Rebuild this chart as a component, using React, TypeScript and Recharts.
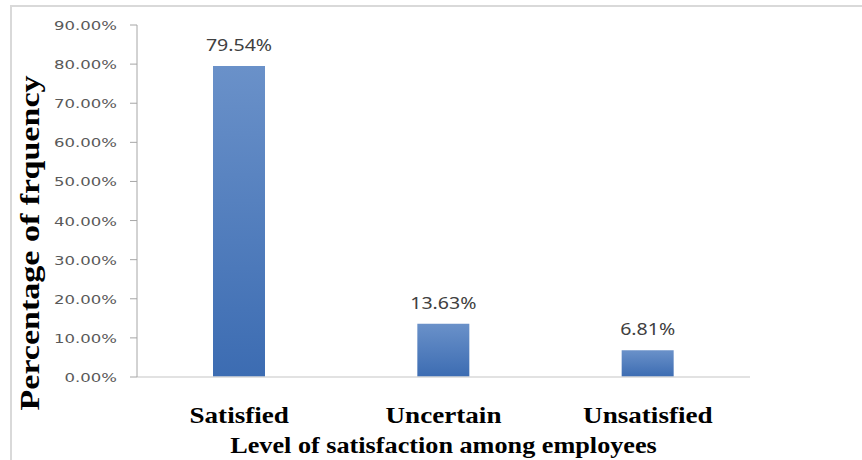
import React from "react";
import { BarChart, Bar, XAxis, YAxis, LabelList } from "recharts";

const categories = ["Satisfied", "Uncertain", "Unsatisfied"];
const satisfaction = [79.54, 13.63, 6.81];
const yTicks = [0, 10, 20, 30, 40, 50, 60, 70, 80, 90];

const data = categories.map((c, i) => ({ level: c, value: satisfaction[i] }));

const serif = "'Liberation Serif', 'Times New Roman', serif";

// the source picture is a little stretched sideways, so texts get a scaleX
function YTick(props: any) {
  const { x, y, payload } = props;
  return (
    <text
      transform={`translate(${x},${y + 5}) scale(1.27,1)`}
      textAnchor="end"
      fontFamily="'DejaVu Sans', Verdana, sans-serif"
      fontSize={13}
      fill="#595959"
    >
      {`${Number(payload.value).toFixed(2)}%`}
    </text>
  );
}

function XTick(props: any) {
  const { x, y, payload } = props;
  return (
    <text
      transform={`translate(${x},${y + 46}) scale(1.13,1)`}
      textAnchor="middle"
      fontFamily={serif}
      fontWeight="bold"
      fontSize={24}
      fill="#000"
    >
      {payload.value}
    </text>
  );
}

function ValueLabel(props: any) {
  const { x, y, width, value } = props;
  return (
    <text
      transform={`translate(${x + width / 2},${y - 15}) scale(1.15,1)`}
      textAnchor="middle"
      fontFamily="'Noto Sans', 'Open Sans', sans-serif"
      fontSize={17}
      fill="#404040"
    >
      {`${Number(value).toFixed(2)}%`}
    </text>
  );
}

function XTitle(props: any) {
  const vb = props.viewBox || {};
  return (
    <text
      transform={`translate(${vb.x + vb.width / 2},453) scale(1.14,1)`}
      textAnchor="middle"
      fontFamily={serif}
      fontWeight="bold"
      fontSize={23}
      fill="#000"
    >
      Level of satisfaction among employees
    </text>
  );
}

function YTitle() {
  return (
    <text
      transform="translate(39,243) rotate(-90) scale(1.26,1)"
      textAnchor="middle"
      fontFamily={serif}
      fontWeight="bold"
      fontSize={27}
      fill="#000"
    >
      Percentage of frquency
    </text>
  );
}

export default function App() {
  return (
    <div
      style={{
        position: "absolute",
        left: 0,
        top: 0,
        width: 862,
        height: 460,
        overflow: "hidden",
        background: "#fff",
      }}
    >
      <div
        style={{
          position: "absolute",
          left: 10,
          top: 5,
          width: 900,
          height: 500,
          borderLeft: "2px solid #d9d9d9",
          borderTop: "2px solid #d9d9d9",
        }}
      />
      <div style={{ position: "absolute", left: 0, top: 0 }}>
        <BarChart
          width={862}
          height={460}
          data={data}
          margin={{ top: 25, right: 112, bottom: 0, left: 0 }}
        >
          <defs>
            <linearGradient id="barFill" x1="0" y1="0" x2="0" y2="1">
              <stop offset="0%" stopColor="#6a91c9" />
              <stop offset="100%" stopColor="#3c6cb2" />
            </linearGradient>
          </defs>
          <XAxis
            dataKey="level"
            height={83}
            axisLine={{ stroke: "#d9d9d9", strokeWidth: 1.5 }}
            tickLine={false}
            tickSize={0}
            tickMargin={0}
            tick={<XTick />}
            interval={0}
            label={<XTitle />}
          />
          <YAxis
            type="number"
            domain={[0, 90]}
            ticks={yTicks}
            width={137}
            axisLine={{ stroke: "#a6a6a6" }}
            tickLine={{ stroke: "#a6a6a6" }}
            tickSize={7}
            tickMargin={13}
            tick={<YTick />}
            interval={0}
            label={<YTitle />}
          />
          <Bar
            dataKey="value"
            fill="url(#barFill)"
            barSize={52}
            isAnimationActive={false}
          >
            <LabelList dataKey="value" content={<ValueLabel />} />
          </Bar>
        </BarChart>
      </div>
    </div>
  );
}
